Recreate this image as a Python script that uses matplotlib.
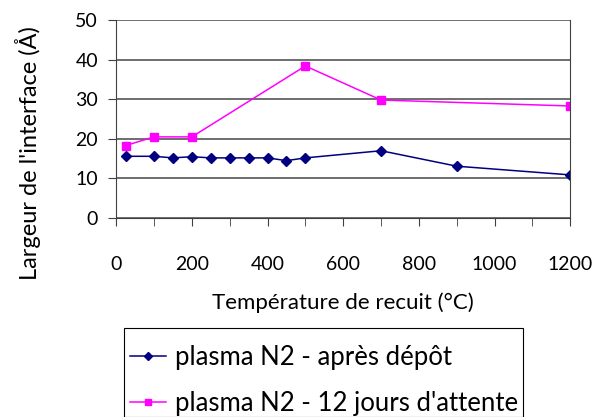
import matplotlib.pyplot as plt
from matplotlib.patches import Rectangle

# annealing temperatures (°C) and interface width (Å)
temp_apres = [25, 100, 150, 200, 250, 300, 350, 400, 450, 500, 700, 900, 1200]
larg_apres = [15.6, 15.6, 15.2, 15.5, 15.2, 15.2, 15.2, 15.2, 14.5, 15.2, 17.0, 13.1, 10.9]
temp_12j = [25, 100, 200, 500, 700, 1200]
larg_12j = [18.3, 20.5, 20.5, 38.4, 29.8, 28.3]
labels = ["plasma N2 - après dépôt", "plasma N2 - 12 jours d'attente"]

plt.rcParams['font.family'] = ['Lato', 'DejaVu Sans']

W, H = 608, 417
fig = plt.figure(figsize=(W / 100, H / 100), dpi=100)
ax = fig.add_axes([0.191, 0.477, 0.747, 0.475])

ax.plot(temp_apres, larg_apres, color='#000080', marker='D', markersize=5,
        linewidth=1.1, label=labels[0])
ax.plot(temp_12j, larg_12j, color='#FF00FF', marker='s', markersize=5.5,
        linewidth=1.1, label=labels[1])

ax.set_xlim(0, 1200)
ax.set_ylim(0, 50)
ax.set_xticks(range(0, 1201, 200))
ax.set_xticks(range(0, 1201, 100), minor=True)
ax.set_yticks(range(0, 51, 10))
ax.yaxis.grid(True, color='#555555', linewidth=1.2)
ax.set_axisbelow(True)
ax.tick_params(axis='both', which='both', direction='out', length=6,
               color='#404040', labelsize=14)
ax.tick_params(axis='x', which='both', pad=21)
ax.tick_params(axis='y', pad=7)
ax.spines['top'].set_visible(False)
for s in ['left', 'bottom', 'right']:
    ax.spines[s].set_color('#404040')

ax.set_xlabel('Température de recuit (°C)', fontsize=16, labelpad=14)
fig.text(28 / W, 1 - 153 / H, "Largeur de l'interface (Å)", fontsize=17,
         rotation=90, ha='center', va='center')

# legend box runs off the bottom of the picture, like the original
fig.patches.append(Rectangle((124 / W, 0), (523 - 124) / W, (H - 328) / H,
                             transform=fig.transFigure, fill=False,
                             edgecolor='black', linewidth=0.8))
leg = fig.legend(loc='upper left', bbox_to_anchor=(130 / W, 1 - 345 / H),
                 fontsize=18.5, frameon=False, handlelength=1.4,
                 handletextpad=0.35, borderpad=0, labelspacing=0.82,
                 borderaxespad=0)
for h in leg.legend_handles:
    h.set_markersize(4)

fig.savefig('out.png', dpi=100)
